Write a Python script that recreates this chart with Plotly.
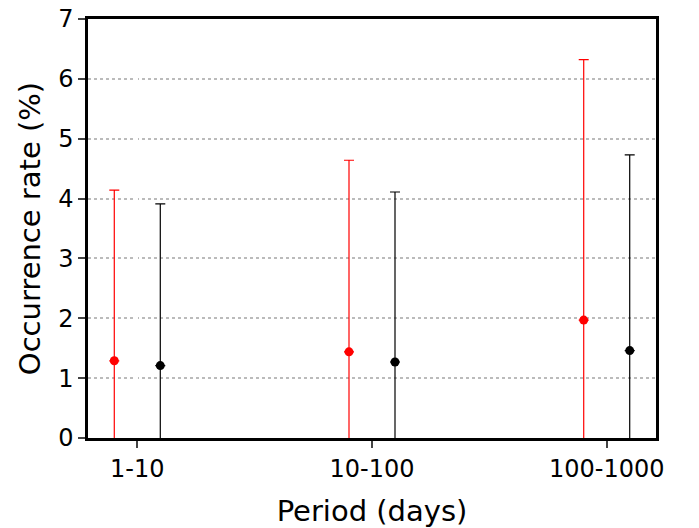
import plotly.graph_objects as go

categories = ["1-10", "10-100", "100-1000"]
red_vals = [1.29, 1.44, 1.97]
red_upper = [4.14, 4.64, 6.32]
black_vals = [1.21, 1.27, 1.46]
black_upper = [3.91, 4.11, 4.73]

xc = list(range(len(categories)))
off = 0.098
fig = go.Figure()
for vals, up, col, sgn in [(red_vals, red_upper, "red", -1), (black_vals, black_upper, "black", 1)]:
    xs = [x + sgn * off for x in xc]
    fig.add_trace(go.Scatter(
        x=xs, y=vals, mode="markers", marker=dict(color=col, size=0.1, opacity=0),
        error_y=dict(type="data", symmetric=False, array=[0] * len(vals),
                     arrayminus=vals, color=col, thickness=1.2, width=0),
        showlegend=False, hoverinfo="skip"))
    fig.add_trace(go.Scatter(
        x=xs, y=vals, mode="markers",
        marker=dict(color=col, size=9),
        error_y=dict(type="data", symmetric=False,
                     array=[u - v for u, v in zip(up, vals)],
                     arrayminus=[0] * len(vals), color=col, thickness=1.2, width=5),
        showlegend=False))

fig.update_layout(
    width=699, height=528, plot_bgcolor="white", paper_bgcolor="white",
    margin=dict(l=80, r=51, t=11, b=98),
    font=dict(family="DejaVu Sans", size=24, color="black"),
    xaxis=dict(range=[-0.21, 2.21], tickvals=xc, ticktext=categories, automargin=False,
               tickfont=dict(size=24), ticklabeloverflow="allow",
               showline=True, linecolor="black", linewidth=2.5, mirror=True,
               ticks="outside", ticklen=7, tickwidth=2, showgrid=False,
               title=dict(text="Period (days)", standoff=20)),
    yaxis=dict(range=[0, 7], dtick=1, showline=True, linecolor="black", linewidth=2.5,
               automargin=False, tickfont=dict(size=24), ticklabeloverflow="allow",
               mirror=True, ticks="outside", ticklen=7, tickwidth=2,
               showgrid=True, gridcolor="#bbbbbb", griddash="dot", gridwidth=1.5,
               zeroline=False, title=dict(text="Occurrence rate (%)", standoff=10)),
)
fig.write_html("out.html")
